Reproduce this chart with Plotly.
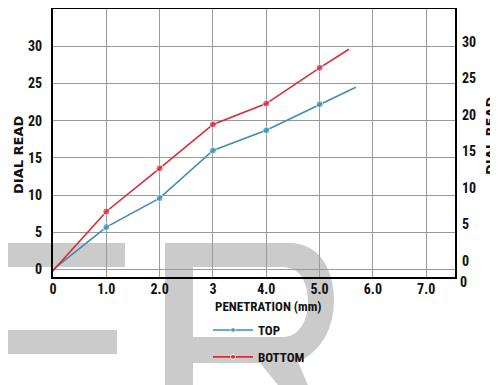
import plotly.graph_objects as go

# ---- data ----
top_x = [0, 1.0, 2.0, 3.0, 4.0, 5.0, 5.68]
top_y = [0, 5.7, 9.6, 16.0, 18.7, 22.2, 24.5]
bottom_x = [-0.23, 1.0, 2.0, 3.0, 4.0, 5.0, 5.55]
bottom_y = [-2.0, 7.8, 13.6, 19.5, 22.3, 27.1, 29.6]
marker_sizes = [0, 7, 7, 7, 7, 7, 0]
x_tickvals = [0, 1, 2, 3, 4, 5, 6, 7]
x_ticktext = ["0", "1.0", "2.0", "3", "4.0", "5.0", "6.0", "7.0"]
y_tickvals = [0, 5, 10, 15, 20, 25, 30]

FN = "Roboto Condensed, Liberation Sans Narrow, DejaVu Sans Condensed, Arial, sans-serif"
FW = "DejaVu Sans, Verdana, sans-serif"
BLUE = "#3d8fb2"
RED = "#dc2a36"
OFF = 8  # body margin of the page
W, H = 498 - OFF, 385 - OFF
PL, PT, PR, PB = 53, 9, 455, 277  # plot box in page pixels
L, T = PL - OFF, PT - OFF
R, B = W - (PR - OFF), H - (PB - OFF)
PW, PH = PR - PL, PB - PT


def px(x):
    return (x - PL) / PW


def py(y):
    return (PB - y) / PH


fig = go.Figure()
fig.add_trace(go.Scatter(x=top_x, y=top_y, name="TOP", mode="lines+markers", legendgroup="a",
                         line=dict(color=BLUE, width=1.6),
                         marker=dict(color=BLUE, size=marker_sizes)))
fig.add_trace(go.Scatter(x=bottom_x, y=bottom_y, name="BOTTOM", mode="lines+markers", legendgroup="b",
                         line=dict(color=RED, width=1.6),
                         marker=dict(color=RED, size=marker_sizes)))
fig.add_trace(go.Scatter(x=[None], y=[None], yaxis="y2", showlegend=False))

# watermark shapes (decoration)
GRAY = "#cbcbcb"
rects = [(-10, 243, 125, 267), (-10, 243, 3, 390), (-10, 330, 117, 354)]
for x0, y0, x1, y1 in rects:
    fig.add_shape(type="rect", xref="paper", yref="paper",
                  x0=px(x0), x1=px(x1), y0=py(y0), y1=py(y1),
                  fillcolor=GRAY, line_width=0, layer="below")


def pth(cmds):
    out = []
    for c in cmds:
        if isinstance(c, str):
            out.append(c)
        else:
            out.append(f"{px(c[0]):.5f},{py(c[1]):.5f}")
    return " ".join(out)


outer = pth(["M", (165, 243), "L", (290, 243), "C", (318, 243), (334, 268), (334, 300),
             "C", (334, 330), (320, 352), (298, 362), "L", (310, 390), "L", (282, 390),
             "L", (260, 363), "L", (193, 363), "L", (193, 390), "L", (165, 390), "Z"])
inner = pth(["M", (193, 267), "L", (283, 267), "C", (300, 267), (308, 283), (308, 302),
             "C", (308, 322), (298, 337), (283, 337), "L", (193, 337), "Z"])
fig.add_shape(type="path", xref="paper", yref="paper", path=outer + " " + inner,
              fillcolor=GRAY, line_width=0, layer="below", fillrule="evenodd")

tickfont = dict(family=FN, size=14, color="#111", weight="bold")
fig.update_layout(
    width=W, height=H,
    margin=dict(l=L, r=R, t=T, b=B, autoexpand=False),
    paper_bgcolor="white", plot_bgcolor="rgba(0,0,0,0)",
    font=dict(family=FN, size=14, color="#111"),
    xaxis=dict(range=[0, 7.54], tickvals=x_tickvals, ticktext=x_ticktext,
               showgrid=True, gridcolor="#9a9a9a", gridwidth=1, zeroline=False,
               showline=True, linecolor="black", linewidth=2, mirror=True,
               tickfont=tickfont, ticks="", ticklabelstandoff=-2, automargin=False),
    yaxis=dict(range=[-1, 35], tickvals=y_tickvals,
               showgrid=True, gridcolor="#9a9a9a", gridwidth=1, zeroline=False,
               showline=True, linecolor="black", linewidth=2, mirror=True,
               tickfont=tickfont, ticks="", ticklabelstandoff=6, automargin=False),
    yaxis2=dict(range=[-2.2, 34.5], tickvals=y_tickvals, overlaying="y", side="right",
                showgrid=False, zeroline=False, showline=False, automargin=False,
                tickfont=tickfont, ticks="", ticklabelstandoff=6),
    legend=dict(x=px(208), y=py(315), xanchor="left", yanchor="top",
                font=dict(family=FN, size=13, color="#111", weight="bold"),
                bgcolor="rgba(0,0,0,0)", itemwidth=40, tracegroupgap=7,
                traceorder="grouped"),
    showlegend=True,
)

fig.add_annotation(text="PENETRATION (mm)", xref="paper", yref="paper",
                   x=px(268), y=py(306), showarrow=False, xanchor="center", yanchor="middle",
                   font=dict(family=FN, size=13, color="#111", weight="bold"))
fig.add_annotation(text="DIAL READ", xref="paper", yref="paper",
                   x=px(18), y=py(155), showarrow=False, textangle=-90,
                   xanchor="center", yanchor="middle",
                   font=dict(family=FW, size=13, color="#111", weight="bold"))
fig.add_annotation(text="DIAL READ", xref="paper", yref="paper",
                   x=px(490), y=py(136), showarrow=False, textangle=-90,
                   xanchor="center", yanchor="middle",
                   font=dict(family=FW, size=13, color="#111", weight="bold"))
fig.add_annotation(text="0", xref="paper", yref="paper",
                   x=px(458), y=py(282), showarrow=False, xanchor="left", yanchor="middle",
                   font=dict(family=FN, size=14, color="#111", weight="bold"))

fig.write_html("out.html")
